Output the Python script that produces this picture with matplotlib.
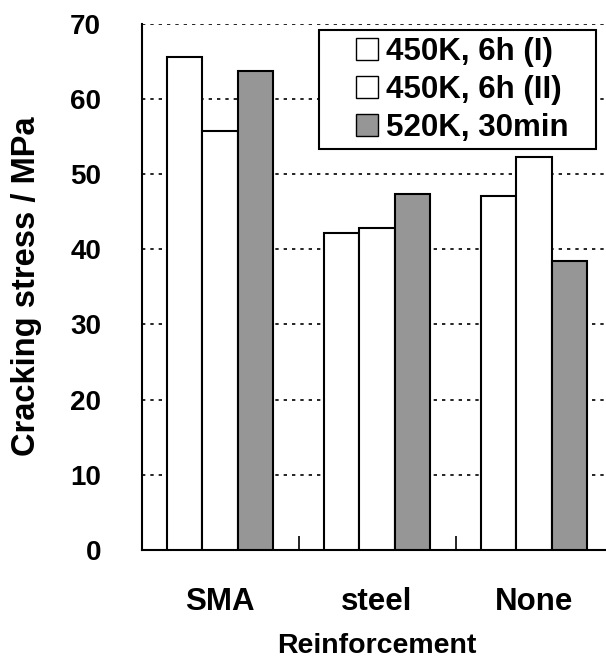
import matplotlib
matplotlib.use("Agg")
import matplotlib.pyplot as plt
from matplotlib.patches import Rectangle
import numpy as np

categories = ["SMA", "steel", "None"]
series_names = ["450K, 6h (I)", "450K, 6h (II)", "520K, 30min"]
s1 = [65.5, 42.1, 47.1]
s2 = [55.7, 42.8, 52.3]
s3 = [63.7, 47.3, 38.4]
yticks = [0, 10, 20, 30, 40, 50, 60, 70]

plt.rcParams['font.family'] = ['Liberation Sans', 'DejaVu Sans']
plt.rcParams['font.weight'] = 'bold'

fig = plt.figure(figsize=(6.06, 6.58), dpi=100)
W, H = 606, 658
ax = fig.add_axes([141.5 / W, 1 - 550 / H, (612.5 - 141.5) / W, (550 - 23.5) / H])

x = np.arange(len(categories))
bw = 0.223
colors = ["white", "white", "#969696"]
for i, (vals, name, c) in enumerate(zip([s1, s2, s3], series_names, colors)):
    ax.bar(x + (i - 1) * bw, vals, width=bw, color=c, edgecolor="black",
           linewidth=1.5, label=name, zorder=3)

ax.set_xlim(-0.5, 2.5)
ax.set_ylim(0, 70)
ax.set_yticks(yticks)
ax.set_yticklabels([str(v) for v in yticks], fontsize=20, fontweight='bold')
ax.tick_params(axis='y', length=0, pad=29)
ax.yaxis.grid(True, linestyle=(0, (2, 3)), color='black', linewidth=1.2, zorder=0)
ax.set_axisbelow(True)

ax.set_xticks(x)
ax.set_xticklabels(categories, fontsize=22.5, fontweight='bold')
ax.set_xticks([0.5, 1.5], minor=True)
ax.tick_params(axis='x', which='major', length=0, pad=27)
ax.tick_params(axis='x', which='minor', direction='in', length=10, width=1.2)

for s in ['top', 'right']:
    ax.spines[s].set_visible(False)
for s in ['left', 'bottom']:
    ax.spines[s].set_linewidth(1.5)

ax.set_xlabel("Reinforcement", fontsize=20.5, fontweight='bold', labelpad=11)
ax.set_ylabel("Cracking stress / MPa", fontsize=23.5, fontweight='bold', labelpad=20)

leg = ax.legend(loc='upper left', bbox_to_anchor=(356 / W, 1 - 37 / H),
                bbox_transform=fig.transFigure, frameon=False,
                borderaxespad=0, handlelength=0.71,
                handleheight=0.71, handletextpad=0.25, labelspacing=0.25,
                borderpad=0, prop={'weight': 'bold', 'size': 22.5})
for h in leg.legend_handles:
    h.set_linewidth(1.0)

frame = Rectangle((319 / W, 1 - 149 / H), (596 - 319) / W, (149 - 30) / H,
                  transform=fig.transFigure, facecolor='white',
                  edgecolor='black', linewidth=1.5, zorder=4)
ax.add_artist(frame)
frame.set_clip_on(False)
leg.set_zorder(5)

fig.savefig("out.png", dpi=100)
